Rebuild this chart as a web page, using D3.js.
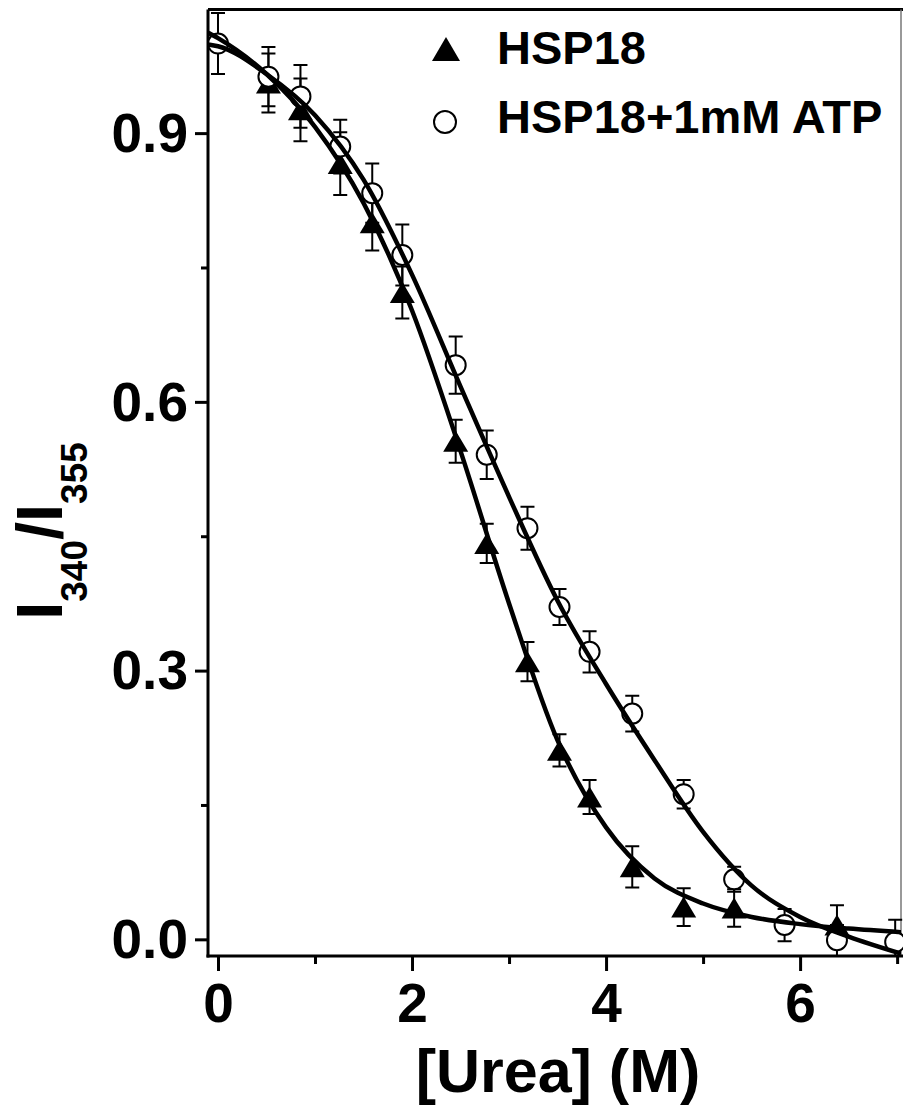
<!DOCTYPE html>
<html>
<head>
<meta charset="utf-8">
<script src="https://cdn.jsdelivr.net/npm/d3@7"></script>
<style>
  html, body { margin: 0; padding: 0; background: #fff; }
  svg { display: block; }
  text { font-family: "Liberation Sans", Arial, sans-serif; font-weight: bold; fill: #000; }
</style>
</head>
<body>
<svg id="chart" width="903" height="1105"></svg>
<script>
// ---- data ----
const hspX   = [0.52, 0.85, 1.26, 1.59, 1.90, 2.45, 2.77, 3.19, 3.52, 3.83, 4.27, 4.80, 5.32, 6.38];
const hspY   = [0.956, 0.926, 0.866, 0.800, 0.722, 0.556, 0.442, 0.310, 0.211, 0.159, 0.081, 0.036, 0.035, 0.016];
const hspErr = [0.033, 0.035, 0.035, 0.031, 0.029, 0.024, 0.022, 0.022, 0.018, 0.019, 0.023, 0.021, 0.021, 0.022];

const atpX   = [0, 0.52, 0.85, 1.26, 1.59, 1.90, 2.45, 2.77, 3.19, 3.52, 3.83, 4.27, 4.80, 5.32, 5.84, 6.38, 6.98];
const atpY   = [1.000, 0.963, 0.941, 0.885, 0.833, 0.764, 0.641, 0.541, 0.459, 0.371, 0.321, 0.252, 0.162, 0.067, 0.016, -0.001, -0.003];
const atpErr = [0.034, 0.033, 0.035, 0.030, 0.033, 0.034, 0.032, 0.027, 0.024, 0.020, 0.023, 0.020, 0.016, 0.014, 0.018, 0.017, 0.025];

// fitted curves
const fitX    = [-0.1, 0, 0.5, 1.0, 1.5, 2.0, 2.5, 3.0, 3.5, 4.0, 4.5, 5.0, 5.5, 6.0, 6.5, 7.04];
const hspFitY = [1.012, 1.006, 0.966, 0.907, 0.822, 0.702, 0.545, 0.375, 0.222, 0.125, 0.068, 0.040, 0.025, 0.017, 0.012, 0.008];
const atpFitY = [0.999, 0.997, 0.966, 0.920, 0.848, 0.742, 0.617, 0.494, 0.378, 0.285, 0.200, 0.120, 0.060, 0.025, 0.003, -0.016];

const xMajor = [0, 2, 4, 6];
const xMinor = [1, 3, 5, 7];
const yMajor = [0.0, 0.3, 0.6, 0.9];
const yMinor = [0.15, 0.45, 0.75];

const seriesNames = ["HSP18", "HSP18+1mM ATP"];

// ---- layout ----
const svg = d3.select("#chart");
const L = 208, R = 901, T = 9.5, B = 956;
const x = d3.scaleLinear().domain([-0.103, 7.04]).range([L, R]);
const y = d3.scaleLinear().domain([-0.0186, 1.038]).range([B, T]);

svg.append("defs").append("clipPath").attr("id", "plotclip")
  .append("rect").attr("x", L).attr("y", T).attr("width", R - L).attr("height", B - T);

// frame top/right
svg.append("line").attr("x1", L).attr("x2", R + 2).attr("y1", T).attr("y2", T)
  .attr("stroke", "#000").attr("stroke-width", 3);
svg.append("line").attr("x1", R).attr("x2", R).attr("y1", T).attr("y2", B)
  .attr("stroke", "#777").attr("stroke-width", 1.5);

// axes
const fmtY = d3.format(".1f");
const yAxis = d3.axisLeft(y).tickValues(yMajor).tickSize(13).tickSizeOuter(0).tickPadding(6).tickFormat(fmtY);
const yAxisMinor = d3.axisLeft(y).tickValues(yMinor).tickSize(7).tickSizeOuter(0).tickFormat("");
const xAxis = d3.axisBottom(x).tickValues(xMajor).tickSize(15).tickSizeOuter(0).tickPadding(10).tickFormat(d3.format("d"));
const xAxisMinor = d3.axisBottom(x).tickValues(xMinor).tickSize(8).tickSizeOuter(0).tickFormat("");

function styleAxis(g) {
  g.select(".domain").attr("stroke", "#000").attr("stroke-width", 3);
  g.selectAll(".tick line").attr("stroke", "#000").attr("stroke-width", 3);
  g.selectAll(".tick text").attr("font-size", 55).attr("font-family", "Liberation Sans, Arial, sans-serif")
    .attr("font-weight", "bold").attr("fill", "#000");
}

const gy = svg.append("g").attr("transform", `translate(${L},0)`).call(yAxis).call(styleAxis);
gy.select(".domain").attr("d", `M0,${T}V${B + 1.5}`);
gy.selectAll(".tick text").attr("dy", "0.33em").attr("x", -20);
svg.append("g").attr("transform", `translate(${L},0)`).call(yAxisMinor).call(styleAxis)
  .select(".domain").remove();

const gx = svg.append("g").attr("transform", `translate(0,${B})`).call(xAxis).call(styleAxis);
gx.select(".domain").attr("d", `M${L - 1.5},0H${R + 2}`);
gx.selectAll(".tick text").attr("dy", "0.71em").attr("y", 27);
svg.append("g").attr("transform", `translate(0,${B})`).call(xAxisMinor).call(styleAxis)
  .select(".domain").remove();

// axis titles
svg.append("text").attr("x", 558).attr("y", 1092).attr("text-anchor", "middle")
  .attr("font-size", 61).text("[Urea] (M)");

const yt = svg.append("text").attr("transform", "translate(62,531) rotate(-90)")
  .attr("text-anchor", "middle").attr("font-size", 65);
yt.append("tspan").text("I");
yt.append("tspan").attr("font-size", 37).attr("dy", 25).text("340");
yt.append("tspan").attr("dy", -25).text("/I");
yt.append("tspan").attr("font-size", 37).attr("dy", 25).text("355");

// data
const plot = svg.append("g");
const hsp = hspX.map((v, i) => ({ x: v, y: hspY[i], e: hspErr[i] }));
const atp = atpX.map((v, i) => ({ x: v, y: atpY[i], e: atpErr[i] }));

function errorBars(data) {
  const g = plot.append("g").attr("stroke", "#000").attr("stroke-width", 2).attr("fill", "none");
  g.selectAll("path").data(data).join("path")
    .attr("d", d => {
      const cx = x(d.x), y1 = y(d.y + d.e), y2 = Math.min(y(d.y - d.e), B - 1), w = 7;
      let p = `M${cx},${y1}V${y2}M${cx - w},${y1}H${cx + w}`;
      if (y(d.y - d.e) < B - 1) p += `M${cx - w},${y2}H${cx + w}`;
      return p;
    });
}
errorBars(hsp);
errorBars(atp);

const triPath = (w, h) => `M0,${-h / 2}L${w / 2},${h / 2}L${-w / 2},${h / 2}Z`;

plot.append("g").selectAll("path").data(hsp).join("path")
  .attr("transform", d => `translate(${x(d.x)},${y(d.y)})`)
  .attr("d", triPath(25, 21)).attr("fill", "#000");

plot.append("g").selectAll("circle").data(atp).join("circle")
  .attr("cx", d => x(d.x)).attr("cy", d => y(d.y)).attr("r", 10)
  .attr("fill", "#fff").attr("stroke", "#000").attr("stroke-width", 2);

// fit curves
const line = d3.line().x(d => x(d[0])).y(d => y(d[1])).curve(d3.curveMonotoneX);
const curves = svg.append("g").attr("clip-path", "url(#plotclip)");
curves.append("path").datum(fitX.map((v, i) => [v, hspFitY[i]])).attr("d", line)
  .attr("fill", "none").attr("stroke", "#000").attr("stroke-width", 4.5);
curves.append("path").datum(fitX.map((v, i) => [v, atpFitY[i]])).attr("d", line)
  .attr("fill", "none").attr("stroke", "#000").attr("stroke-width", 4.5);

// legend
const lg = svg.append("g");
lg.append("path").attr("transform", "translate(446,49)").attr("d", triPath(28, 24)).attr("fill", "#000");
lg.append("circle").attr("cx", 445).attr("cy", 122).attr("r", 11)
  .attr("fill", "#fff").attr("stroke", "#000").attr("stroke-width", 2);
lg.append("text").attr("x", 497).attr("y", 64).attr("font-size", 47).text(seriesNames[0]);
lg.append("text").attr("x", 497).attr("y", 133).attr("font-size", 47).text(seriesNames[1]);
</script>
</body>
</html>
